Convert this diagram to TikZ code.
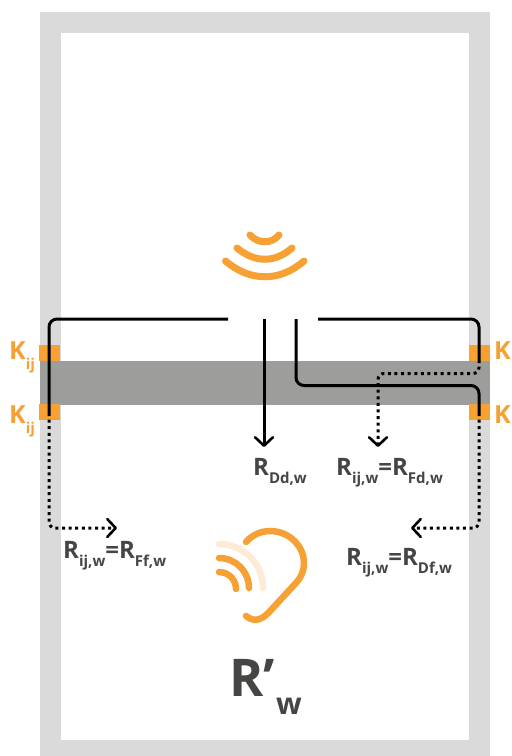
\documentclass[tikz,border=0pt]{standalone}
\usepackage{fontspec}
\setmainfont{Open Sans}
\usetikzlibrary{arrows.meta}
\definecolor{wallg}{HTML}{DADADA}
\definecolor{slabg}{HTML}{9D9D9C}
\definecolor{orng}{HTML}{F7A033}
\definecolor{pale}{HTML}{FDEBD8}
\definecolor{txt}{HTML}{454544}
\tikzset{
  x=1pt,y=-1pt,
  solidline/.style={black,line width=3pt,rounded corners=8pt},
  dotline/.style={black,line width=3pt,rounded corners=6pt,dash pattern=on 3pt off 3.6pt},
  tipped/.style={-{Straight Barb[length=8.5pt,width=18pt,line width=2.6pt,round]}},
  junction/.style={fill=orng,draw=none,minimum width=21pt,minimum height=16pt,inner sep=0pt,outer sep=0pt},
  waveline/.style={orng,line width=7pt,line cap=round},
  earline/.style={orng,line width=6.5pt,line cap=round},
  klabel/.style={text=orng,anchor=base west,inner sep=0pt,font=\bfseries\fontsize{25}{25}\selectfont},
  rlabel/.style={text=txt,anchor=base west,inner sep=0pt,font=\bfseries\fontsize{24}{24}\selectfont},
}
\newcommand{\sbs}[2][-8]{\raisebox{#1pt}{\fontsize{15}{15}\selectfont #2}}
\begin{document}
\begin{tikzpicture}
\useasboundingbox (0,0) rectangle (512,756);
\fill[white] (0,0) rectangle (512,756);
\fill[wallg] (40,12) rectangle (490,756);
\fill[white] (61,33) rectangle (469,740);
\fill[slabg] (40,361) rectangle (490,405);
\node[junction] (jtl) at (49.5,353) {};
\node[junction] (jbl) at (49.5,412) {};
\node[junction] (jtr) at (479.5,353) {};
\node[junction] (jbr) at (479.5,412) {};
% labels
\node[klabel] (k1) at (9,359) {K\sbs[-10]{ij}};
\node[klabel] (k2) at (9,423) {K\sbs[-10]{ij}};
\node[klabel] (k3) at (494,359) {K};
\node[klabel] (k4) at (494,423) {K};
\node[rlabel] (rdd) at (253,475) {R\sbs{Dd,w}};
\node[rlabel] (rfd) at (336,475) {R\sbs{ij,w}=R\sbs{Fd,w}};
\node[rlabel] (rff) at (63,558) {R\sbs{ij,w}=R\sbs{Ff,w}};
\node[rlabel] (rdf) at (346,565) {R\sbs{ij,w}=R\sbs{Df,w}};
\node[text=txt,anchor=base west,inner sep=0pt,font=\bfseries\fontsize{52}{52}\selectfont] (rw) at (229,696) {R’};
\node[text=txt,anchor=base west,inner sep=0pt,font=\bfseries\fontsize{30}{30}\selectfont] (rwsub) at (276,714) {w};
% free ends
\coordinate (a1) at (228,319);
\coordinate (a2) at (264,319);
\coordinate (a3) at (296,319);
\coordinate (a4) at (318,319);
\coordinate (tipd) at (264,447);
\coordinate (tipff) at (117,528);
\coordinate (tipdf) at (411,528);
\coordinate (tipfd) at (378,447);
\coordinate (l) at (49,413);
\coordinate (r1) at (479,360);
\coordinate (r2) at (479,413);
% dotted
\draw[dotline,tipped] (l) -- (49,528) -- (tipff);
\draw[dotline,tipped] (r2) -- (479,528) -- (tipdf);
\draw[dotline,tipped] (r1) -- (479,373.5) -- (378,373.5) -- (tipfd);
% solid
\draw[solidline] (a1) -- (49,319) -- (l);
\draw[solidline] (a4) -- (479,319) -- (r1);
\draw[solidline] (a3) -- (296,385.5) -- (479,385.5) -- (r2);
\draw[black,line width=3pt,tipped] (a2) -- (tipd);
% source icon
\draw[waveline] (225.5,261) .. controls (250,282) and (280,282) .. (304,261);
\draw[waveline] (237,248) .. controls (255,263) and (275,263) .. (292,248);
\draw[waveline] (250,235) .. controls (258,244) and (272,244) .. (279,235);
% ear icon
\draw[pale,line width=6.5pt,line cap=round] (219,544) arc[start angle=-90,end angle=0,radius=44];
\draw[earline] (219,558) arc[start angle=-90,end angle=0,radius=30];
\draw[earline] (219,572) arc[start angle=-90,end angle=0,radius=17];
\draw[earline] (246,542) .. controls (252,535) and (261,531) .. (270,531)
  .. controls (289,531) and (304,546) .. (304,563)
  .. controls (304,572) and (300,579) .. (295,584)
  -- (271,610) .. controls (264,618) and (256,624) .. (246,616);
\end{tikzpicture}
\end{document}
